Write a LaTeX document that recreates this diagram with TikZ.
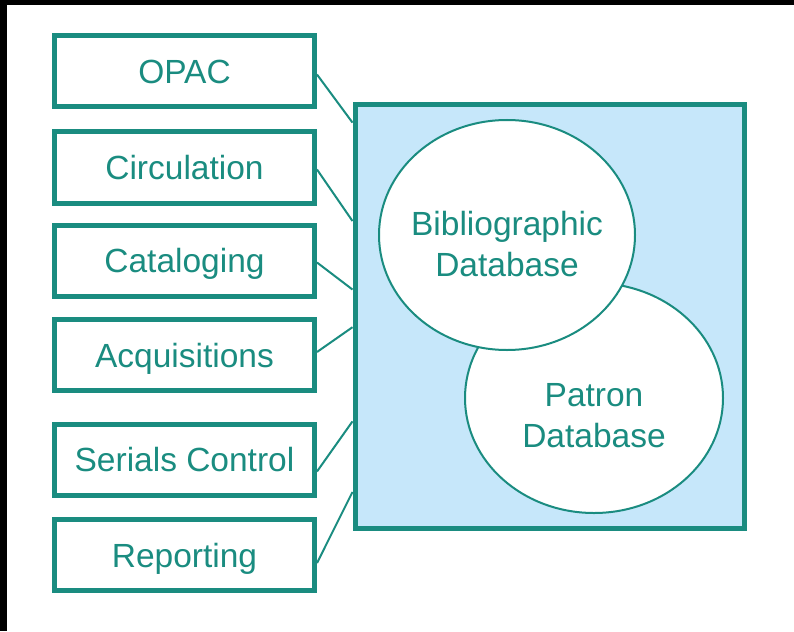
\documentclass[tikz,border=0pt]{standalone}
\usepackage{fontspec}
\setmainfont{Liberation Sans}
\usetikzlibrary{calc}
\usetikzlibrary{math}
\usetikzlibrary{shapes.geometric}
\definecolor{ilsteal}{RGB}{26,140,128}
\definecolor{ilsblue}{RGB}{198,231,250}

\begin{document}
\begin{tikzpicture}[x=1pt,y=-1pt,
        module/.style={draw=ilsteal,line width=5pt,minimum width=260pt,minimum height=71pt,inner sep=0pt,
            text=ilsteal,text height=24pt,text depth=0pt,font=\fontsize{33.5}{41}\selectfont},
        db/.style={ellipse,draw=ilsteal,fill=white,line width=2pt,inner sep=0pt},
        dbtext/.style={align=center,text=ilsteal,font=\fontsize{33.5}{41}\selectfont},
        link/.style={draw=ilsteal,line width=2pt}]
    \useasboundingbox (0,0) rectangle (794,631);
    \fill[black] (0,0) rectangle (794,5);
    \fill[black] (0,0) rectangle (7,631);
    \tikzmath{\bx = 184.5;}
    % modules
    \foreach \m/\y/\t in {opac/71.5/OPAC, circ/167.5/Circulation, catal/260.5/Cataloging,
            acq/355/Acquisitions, serials/459.5/Serials Control, report/555/Reporting} {
        \node[module] (\m) at (\bx,\y) {\t};
    }
    % central system
    \node[draw=ilsteal,fill=ilsblue,line width=5pt,minimum width=389pt,minimum height=423pt,inner sep=0pt] (ils) at (549.5,316.5) {};
    \foreach \m/\f/\dy in {opac/0.047/-3pt, circ/0.277/-2pt, catal/0.437/-2pt,
            acq/0.525/3pt, serials/0.745/-12pt, report/0.91/-8pt} {
        \draw[link] ([yshift=\dy]\m.east) -- ($(ils.north west)!\f!(ils.south west)$);
    }
    % databases
    \node[db,minimum width=258pt,minimum height=230pt] (patron) at (594,398) {};
    \node[db,minimum width=256pt,minimum height=230pt] (biblio) at (507,235) {};
    \node[dbtext] (bibliotext) at ([yshift=-9.5pt]biblio.center) {Bibliographic\\Database};
    \node[dbtext] (patrontext) at ([yshift=-17.5pt]patron.center) {Patron\\Database};
\end{tikzpicture}
\end{document}
